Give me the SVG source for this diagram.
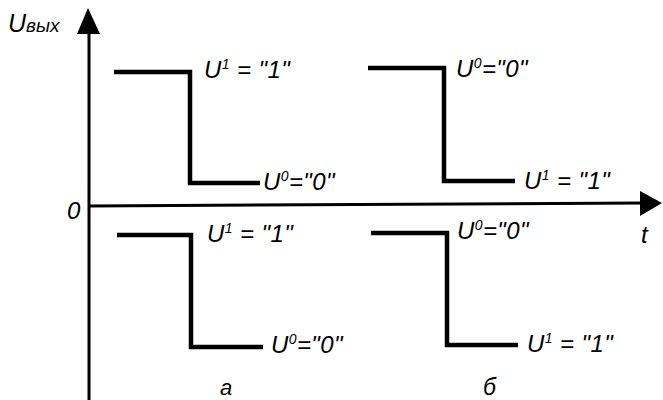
<svg xmlns="http://www.w3.org/2000/svg" width="663" height="400" viewBox="0 0 663 400">
<style>
.ax{stroke:#000;stroke-width:3;fill:none}
.wf{stroke:#000;stroke-width:4.5;fill:none;stroke-linejoin:miter}
.ah{fill:#000}
text{font-family:"Liberation Sans",Arial,sans-serif;font-style:italic;fill:#000}
.lb{font-size:24px;letter-spacing:0.4px}
.sp{font-size:14px}
</style>
<rect width="663" height="400" fill="#fff"/>
<g id="connectors">
<line class="ax" x1="89" y1="400" x2="89" y2="30"/>
<polygon class="ah" points="88,8 77,34 100,34"/>
<line class="ax" x1="89" y1="206" x2="645" y2="203"/>
<polygon class="ah" points="662,203 640,191 640,216"/>
</g>
<g id="axis-labels">
<text x="8" y="32" font-size="25">U<tspan font-size="19">вых</tspan></text>
<text x="67" y="219" class="lb">0</text>
<text x="641" y="243" class="lb">t</text>
</g>
<g id="wave-a-top">
<path class="wf" d="M114 72 H190 V183 H260"/>
<text class="lb" x="204" y="78">U<tspan class="sp" dy="-9">1</tspan><tspan dy="9"> = "1"</tspan></text>
<text class="lb" x="263" y="190">U<tspan class="sp" dy="-9">0</tspan><tspan dy="9">="0"</tspan></text>
</g>
<g id="wave-b-top">
<path class="wf" d="M368 68 H444 V181 H515"/>
<text class="lb" x="456" y="77">U<tspan class="sp" dy="-9">0</tspan><tspan dy="9">="0"</tspan></text>
<text class="lb" x="524" y="189">U<tspan class="sp" dy="-9">1</tspan><tspan dy="9"> = "1"</tspan></text>
</g>
<g id="wave-a-bottom">
<path class="wf" d="M117 235 H191 V347 H263"/>
<text class="lb" x="207" y="242">U<tspan class="sp" dy="-9">1</tspan><tspan dy="9"> = "1"</tspan></text>
<text class="lb" x="271" y="353">U<tspan class="sp" dy="-9">0</tspan><tspan dy="9">="0"</tspan></text>
</g>
<g id="wave-b-bottom">
<path class="wf" d="M371 233 H447 V345 H518"/>
<text class="lb" x="457" y="239">U<tspan class="sp" dy="-9">0</tspan><tspan dy="9">="0"</tspan></text>
<text class="lb" x="527" y="352">U<tspan class="sp" dy="-9">1</tspan><tspan dy="9"> = "1"</tspan></text>
</g>
<g id="captions">
<text x="220" y="395" font-size="22">а</text>
<text x="483" y="395" font-size="23">б</text>
</g>
</svg>
